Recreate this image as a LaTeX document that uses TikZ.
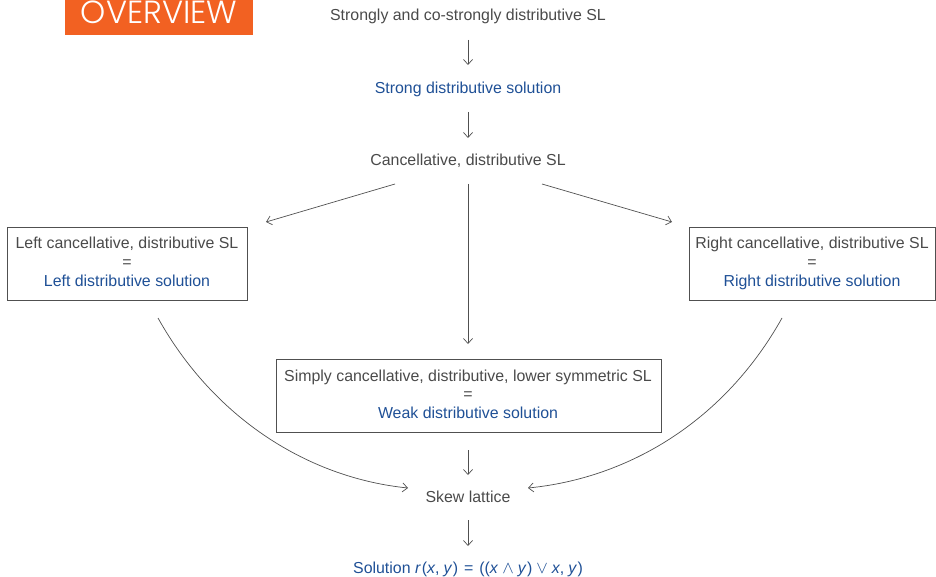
\documentclass[tikz,border=0pt]{standalone}
\usepackage{fontspec}
\setmainfont{Liberation Sans}
\newfontfamily\ovfont{Poppins}[UprightFont={* Light}]
\usetikzlibrary{arrows.meta}
\definecolor{txtgray}{HTML}{4A4A4A}
\definecolor{solblue}{HTML}{1F5096}
\definecolor{ovorange}{HTML}{F26122}
\definecolor{linegray}{HTML}{505050}
\tikzset{
  lbl/.style={font=\fontsize{15.9}{18}\selectfont, text=txtgray, inner sep=0pt, anchor=base},
  sol/.style={font=\fontsize{15.9}{18}\selectfont, text=solblue, inner sep=0pt, anchor=base},
  boxed/.style={draw=linegray, line width=0.8pt, inner sep=0pt},
  arr/.style={draw=linegray, line width=0.7pt, -{Straight Barb[length=5pt,width=9pt]}},
}
\newcommand{\mysp}[1]{\hspace{#1pt}}
\begin{document}
\begin{tikzpicture}[x=1pt,y=-1pt]
\useasboundingbox (0,0) rectangle (936,577);
% overview tag
\fill[ovorange] (65,0) rectangle (253,35);
\node[font=\ovfont\fontsize{32}{32}\selectfont, text=white, anchor=base, inner sep=0pt] (ov) at (159,23.5) {OVERVIEW};
% main column
\node[lbl] (a) at (468,20.5) {Strongly and co-strongly distributive SL};
\node[sol] (b) at (468,94) {Strong distributive solution};
\node[lbl] (c) at (468,166) {Cancellative, distributive SL};
% boxes
\node[boxed, minimum width=240pt, minimum height=73pt] (L) at (127,263.5) {};
\node[lbl] (L1) at (127,248.5) {Left cancellative, distributive SL};
\node[lbl] (L2) at (127,267) {=};
\node[sol] (L3) at (127,286.5) {Left distributive solution};
\node[boxed, minimum width=246pt, minimum height=73pt] (R) at (812,263.5) {};
\node[lbl] (R1) at (812,248.5) {Right cancellative, distributive SL};
\node[lbl] (R2) at (812,267) {=};
\node[sol] (R3) at (812,286.5) {Right distributive solution};
\node[boxed, minimum width=385pt, minimum height=73pt] (M) at (468.5,395.5) {};
\node[lbl] (M1) at (468,381.5) {Simply cancellative, distributive, lower symmetric SL};
\node[lbl] (M2) at (468,399) {=};
\node[sol] (M3) at (468,418.5) {Weak distributive solution};
\node[lbl] (s) at (468,502.5) {Skew lattice};
\node[sol] (f) at (468,573.5) {Solution \textit{r}\mysp{1}(\textit{x},\mysp{4}\textit{y}\mysp{0.5})\mysp{6}=\mysp{6}((\textit{x}\mysp{4}$\wedge$\mysp{4}\textit{y}\mysp{0.5})\mysp{4}$\vee$\mysp{4}\textit{x},\mysp{4}\textit{y}\mysp{0.5})};
% coordinates for connector ends
\coordinate (a1) at (468,40); \coordinate (b0) at (468,65);
\coordinate (b1) at (468,112); \coordinate (c0) at (468,138);
\coordinate (cl) at (395,184); \coordinate (Lt) at (266,222);
\coordinate (cr) at (542,184); \coordinate (Rt) at (672,222);
\coordinate (cm) at (468,184); \coordinate (Mt) at (468,344);
\coordinate (m1) at (468,450); \coordinate (s0) at (468,475);
\coordinate (s1) at (468,520); \coordinate (f0) at (468,546);
\coordinate (lb) at (158,318); \coordinate (sl) at (408,488);
\coordinate (rb) at (782,318); \coordinate (sr) at (528,488);
\draw[arr] (a1) -- (b0);
\draw[arr] (b1) -- (c0);
\draw[arr] (cl) -- (Lt);
\draw[arr] (cr) -- (Rt);
\draw[arr] (cm) -- (Mt);
\draw[arr] (m1) -- (s0);
\draw[arr] (s1) -- (f0);
\draw[arr] (lb) .. controls (215,420) and (310,478) .. (sl);
\draw[arr] (rb) .. controls (725,420) and (630,478) .. (sr);
\end{tikzpicture}
\end{document}
